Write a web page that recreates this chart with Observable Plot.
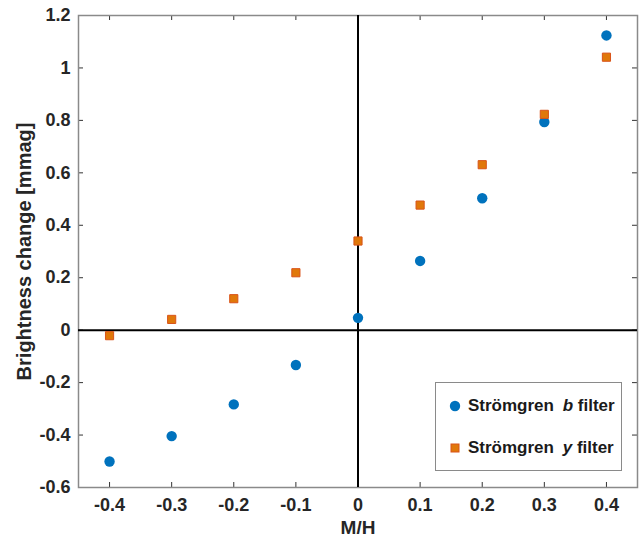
<!DOCTYPE html>
<html>
<head>
<meta charset="utf-8">
<script src="https://cdn.jsdelivr.net/npm/d3@7"></script>
<script src="https://cdn.jsdelivr.net/npm/@observablehq/plot@0.6"></script>
<style>
  html, body { margin: 0; padding: 0; background: #fff; }
  #wrap { position: relative; width: 641px; height: 537px; font-family: "Liberation Sans", Arial, Helvetica, sans-serif; }
  #wrap svg { display: block; }
  #wrap svg text { font-weight: bold; }
  #legend { position: absolute; left: 435px; top: 382px; width: 187px; height: 89px; border: 1px solid #8a8a8a; background: #fff; box-sizing: border-box; }
  .item { position: absolute; left: 0; height: 22px; display: flex; align-items: center; font-weight: bold; font-size: 17px; color: #1a1a1a; white-space: nowrap; }
  .item svg { margin-left: 13px; margin-right: 7px; }
  .item i { margin-left: 4px; }
</style>
</head>
<body>
<div id="wrap"></div>
<script>
// Data
const metallicity = [-0.4, -0.3, -0.2, -0.1, 0, 0.1, 0.2, 0.3, 0.4];
const filterB = [-0.501, -0.404, -0.283, -0.133, 0.047, 0.264, 0.503, 0.794, 1.124];
const filterY = [-0.021, 0.041, 0.120, 0.219, 0.340, 0.477, 0.631, 0.823, 1.041];
const seriesNames = ["b", "y"];
const xTicks = [-0.4, -0.3, -0.2, -0.1, 0, 0.1, 0.2, 0.3, 0.4];
const yTicks = [-0.6, -0.4, -0.2, 0, 0.2, 0.4, 0.6, 0.8, 1, 1.2];
const xLabel = "M/H";
const yLabel = "Brightness change [mmag]";

const colors = { b: "#0072bd", y: "#e0780a" };
const fmt = d => String(+d.toFixed(1));

const W = 641, H = 537;
const mt = 15, mb = 50, ml = 78, mr = 4;
const frameH = H - mt - mb, frameW = W - ml - mr;
const tickLen = 5;

const dataB = metallicity.map((m, i) => ({m, v: filterB[i]}));
const dataY = metallicity.map((m, i) => ({m, v: filterY[i]}));

const axisStroke = "#8a8a8a";
const textColor = "#262626";

const chart = Plot.plot({
  width: W, height: H,
  marginTop: mt, marginBottom: mb, marginLeft: ml, marginRight: mr,
  style: { fontFamily: '"Liberation Sans", Arial, Helvetica, sans-serif', fontSize: "18px", fontWeight: "bold", color: textColor, background: "#fff" },
  x: { domain: [-0.45, 0.45] },
  y: { domain: [-0.6, 1.2] },
  marks: [
    Plot.axisX(xTicks, { tickSize: 0, tickPadding: 11, tickFormat: fmt, label: null, fill: textColor, fontWeight: "bold", fontSize: 18 }),
    Plot.axisY(yTicks, { tickSize: 0, tickPadding: 8, tickFormat: fmt, label: null, fill: textColor, fontWeight: "bold", fontSize: 18 }),
    // inward ticks on all four sides
    Plot.ruleX(xTicks, { x: d => d, insetTop: frameH - tickLen, stroke: "#333", strokeWidth: 1 }),
    Plot.ruleX(xTicks, { x: d => d, insetBottom: frameH - tickLen, stroke: "#333", strokeWidth: 1 }),
    Plot.ruleY(yTicks, { y: d => d, insetRight: frameW - tickLen, stroke: "#333", strokeWidth: 1 }),
    Plot.ruleY(yTicks, { y: d => d, insetLeft: frameW - tickLen, stroke: "#333", strokeWidth: 1 }),
    Plot.frame({ stroke: axisStroke, strokeWidth: 1.5 }),
    Plot.ruleX([0], { stroke: "#000", strokeWidth: 2 }),
    Plot.ruleY([0], { stroke: "#000", strokeWidth: 2 }),
    Plot.dot(dataB, { x: "m", y: "v", r: 5.2, fill: colors.b, stroke: null, symbol: "circle" }),
    Plot.dot(dataY, { x: "m", y: "v", r: 4.6, fill: colors.y, stroke: "#d95319", strokeWidth: 1, symbol: "square" }),
    Plot.text([xLabel], { frameAnchor: "bottom", dy: 40, text: d => d, textAnchor: "middle", lineAnchor: "middle", fill: textColor, fontWeight: "bold", fontSize: 19 }),
    Plot.text([yLabel], { frameAnchor: "left", dx: -54, rotate: -90, text: d => d, textAnchor: "middle", lineAnchor: "middle", fill: textColor, fontWeight: "bold", fontSize: 20 })
  ]
});

const wrap = document.getElementById("wrap");
wrap.appendChild(chart);

// Legend overlay
const legend = document.createElement("div");
legend.id = "legend";
const itemTops = [12, 54];
seriesNames.forEach((s, i) => {
  const item = document.createElement("div");
  item.className = "item";
  item.style.top = itemTops[i] + "px";
  const marker = s === "b"
    ? `<svg width="12" height="12"><circle cx="6" cy="6" r="5.2" fill="${colors.b}"/></svg>`
    : `<svg width="12" height="12"><rect x="2" y="2" width="8" height="8" fill="${colors.y}" stroke="#d95319" stroke-width="1"/></svg>`;
  item.innerHTML = `${marker}<span>Strömgren <i>${s}</i> filter</span>`;
  legend.appendChild(item);
});
wrap.appendChild(legend);
</script>
</body>
</html>
